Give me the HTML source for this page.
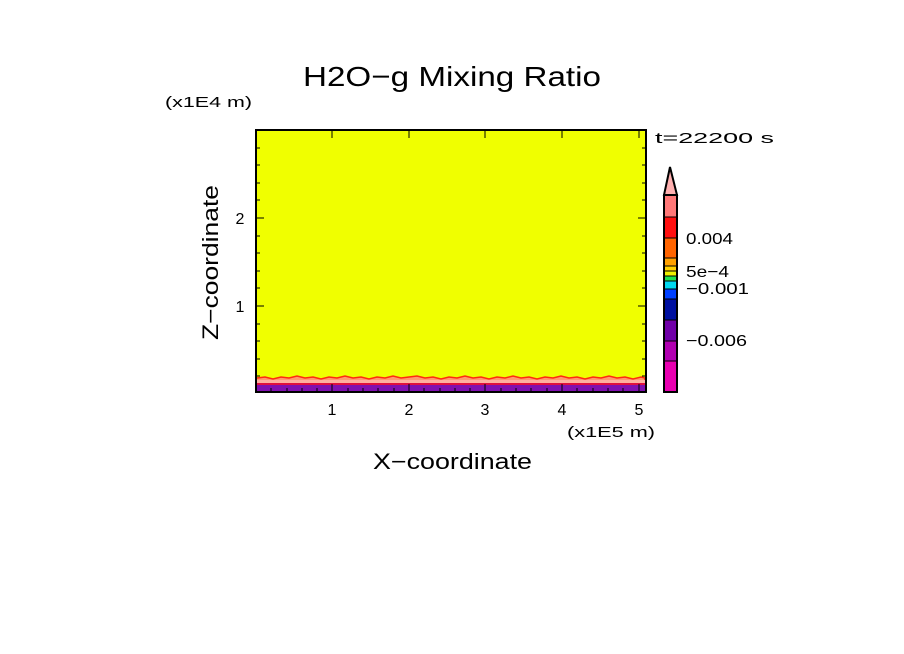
<!DOCTYPE html>
<html><head><style>body{margin:0;background:#fff}svg{display:block}text{font-family:"Liberation Sans",sans-serif}</style></head><body>
<svg width="904" height="654" xmlns="http://www.w3.org/2000/svg">
<rect width="904" height="654" fill="#fff"/>
<text x="303" y="86" font-size="28" textLength="298" lengthAdjust="spacingAndGlyphs">H2O−g Mixing Ratio</text>
<text x="165" y="107" font-size="15" textLength="87" lengthAdjust="spacingAndGlyphs">(x1E4 m)</text>
<text x="655" y="143" font-size="15" textLength="119" lengthAdjust="spacingAndGlyphs">t=22200 s</text>
<rect x="256" y="130" width="390" height="262" fill="#f0ff00"/>
<polyline fill="#ff9a6a" stroke="#ff2a10" stroke-width="1.5" points="257,378 265,377 273,379 281,377 289,378 297,376 305,378 313,377 321,379 329,377 337,378 345,376 353,378 361,377 369,379 377,377 385,378 393,376 401,378 409,377 417,376 425,378 433,377 441,379 449,377 457,378 465,376 473,378 481,377 489,379 497,377 505,378 513,376 521,378 529,377 537,379 545,377 553,378 561,376 569,378 577,377 585,379 593,377 601,378 609,376 617,378 625,377 633,379 641,377 645,378 645,392 257,392"/>
<rect x="257" y="380" width="388" height="3" fill="#ffb0a0"/>
<rect x="257" y="383" width="388" height="2" fill="#e01040"/>
<rect x="257" y="385" width="388" height="7" fill="#8010b0"/>
<rect x="256" y="130" width="390" height="262" fill="none" stroke="#000" stroke-width="2"/>
<g stroke="#000" stroke-width="1">
<path d="M332,392v-8M409,392v-8M485,392v-8M562,392v-8M639,392v-8M332,130v8M409,130v8M485,130v8M562,130v8M639,130v8"/>
<path d="M271,392v-4M287,392v-4M302,392v-4M317,392v-4M348,392v-4M363,392v-4M378,392v-4M394,392v-4M424,392v-4M440,392v-4M455,392v-4M470,392v-4M501,392v-4M516,392v-4M531,392v-4M547,392v-4M577,392v-4M593,392v-4M608,392v-4M623,392v-4"/>
<path d="M256,218h8M256,306h8M646,218h-8M646,306h-8"/>
<path d="M256,376h4M256,359h4M256,341h4M256,324h4M256,288h4M256,271h4M256,253h4M256,236h4M256,200h4M256,183h4M256,165h4M256,148h4M646,376h-4M646,359h-4M646,341h-4M646,324h-4M646,288h-4M646,271h-4M646,253h-4M646,236h-4M646,200h-4M646,183h-4M646,165h-4M646,148h-4"/>
</g>
<g font-size="16" text-anchor="middle">
<text x="332" y="415">1</text><text x="409" y="415">2</text><text x="485" y="415">3</text><text x="562" y="415">4</text><text x="639" y="415">5</text>
<text x="240" y="224">2</text><text x="240" y="312">1</text>
</g>
<text x="567" y="437" font-size="15" textLength="88" lengthAdjust="spacingAndGlyphs">(x1E5 m)</text>
<text x="373" y="469" font-size="22" textLength="159" lengthAdjust="spacingAndGlyphs">X−coordinate</text>
<text x="0" y="0" font-size="22" textLength="155" lengthAdjust="spacingAndGlyphs" transform="translate(218 340) rotate(-90)">Z−coordinate</text>
<g>
<polygon points="664,195 677,195 670,167" fill="#ffb0b0" stroke="#000" stroke-width="2"/>
<rect x="664" y="195" width="13" height="22" fill="#ff7878"/>
<rect x="664" y="217" width="13" height="21" fill="#ff1010"/>
<rect x="664" y="238" width="13" height="20" fill="#ff6400"/>
<rect x="664" y="258" width="13" height="8" fill="#ffa000"/>
<rect x="664" y="266" width="13" height="5" fill="#ffd000"/>
<rect x="664" y="271" width="13" height="5" fill="#f0f000"/>
<rect x="664" y="276" width="13" height="5" fill="#20e050"/>
<rect x="664" y="281" width="13" height="8" fill="#00d8f0"/>
<rect x="664" y="289" width="13" height="10" fill="#0040ff"/>
<rect x="664" y="299" width="13" height="21" fill="#0010a0"/>
<rect x="664" y="320" width="13" height="21" fill="#7000a8"/>
<rect x="664" y="341" width="13" height="20" fill="#b000b0"/>
<rect x="664" y="361" width="13" height="31" fill="#e800b0"/>
<rect x="664" y="195" width="13" height="197" fill="none" stroke="#000" stroke-width="2"/>
<g stroke="#000" stroke-width="1"><path d="M664,217h13M664,238h13M664,258h13M664,266h13M664,271h13M664,276h13M664,281h13M664,289h13M664,299h13M664,320h13M664,341h13M664,361h13"/></g>
</g>
<g font-size="16">
<text x="686" y="244" textLength="47" lengthAdjust="spacingAndGlyphs">0.004</text>
<text x="686" y="277" textLength="43" lengthAdjust="spacingAndGlyphs">5e−4</text>
<text x="686" y="294" textLength="63" lengthAdjust="spacingAndGlyphs">−0.001</text>
<text x="686" y="346" textLength="61" lengthAdjust="spacingAndGlyphs">−0.006</text>
</g>
</svg>
</body></html>
